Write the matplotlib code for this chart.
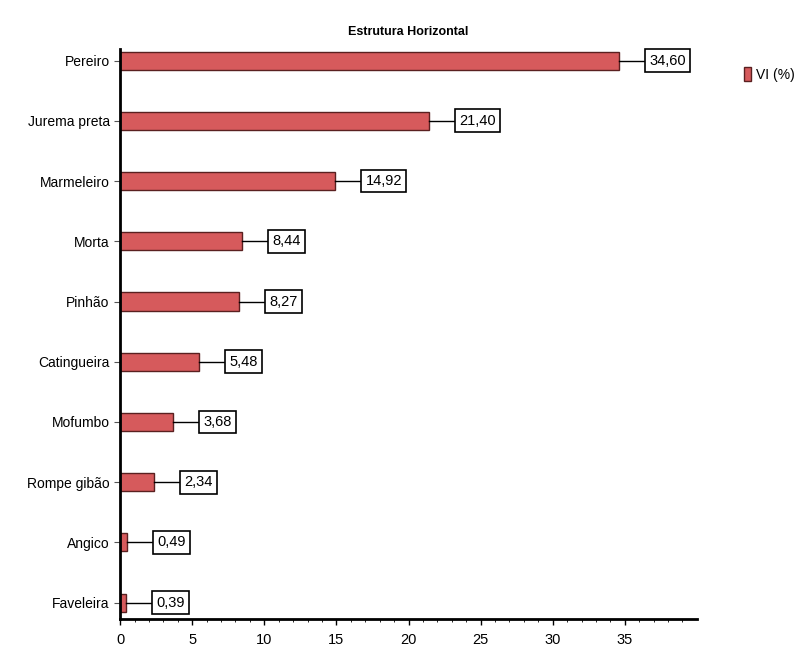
import matplotlib.pyplot as plt
import numpy as np

plt.rcParams['font.family'] = ['Liberation Sans', 'DejaVu Sans']

# especies e valor de importancia
especies = ["Pereiro", "Jurema preta", "Marmeleiro", "Morta", "Pinhão",
            "Catingueira", "Mofumbo", "Rompe gibão", "Angico", "Faveleira"]
vi = [34.60, 21.40, 14.92, 8.44, 8.27, 5.48, 3.68, 2.34, 0.49, 0.39]
rotulos = ["34,60", "21,40", "14,92", "8,44", "8,27",
           "5,48", "3,68", "2,34", "0,49", "0,39"]
xticks = [0, 5, 10, 15, 20, 25, 30, 35]

fig = plt.figure(figsize=(8.01, 6.48), dpi=100)
ax = fig.add_axes([0.15, 0.045, 0.72, 0.88])

y = np.arange(len(especies))[::-1]
ax.barh(y, vi, height=0.3, color='#d65a5c', edgecolor='#5a2020',
        linewidth=1.0, label='VI (%)')

# etiquetas com caixa ligadas por uma linha
for yi, v, r in zip(y, vi, rotulos):
    ax.plot([v, v + 2.1], [yi, yi], color='black', lw=1.0)
    ax.annotate(r, xy=(v + 2.1, yi), xytext=(0, 0), textcoords='offset points',
                ha='left', va='center', fontsize=10.5,
                bbox=dict(boxstyle='square,pad=0.3', fc='white', ec='black', lw=1.2))

ax.set_xlim(0, 40)
ax.set_ylim(-0.27, len(especies) - 0.8)
ax.set_yticks(y)
ax.set_yticklabels(especies, fontsize=10)
ax.set_xticks(xticks)
ax.set_xticklabels([str(t) for t in xticks], fontsize=10.5)
ax.set_xticks(np.arange(0, 40, 1), minor=True)
ax.tick_params(axis='x', which='major', length=4, width=1, pad=6)
ax.tick_params(axis='x', which='minor', length=2, width=0.6)
ax.tick_params(axis='y', length=4, width=0.8, colors='#555555', labelcolor='black')

for s in ['top', 'right']:
    ax.spines[s].set_visible(False)
ax.spines['left'].set_linewidth(2.0)
ax.spines['bottom'].set_linewidth(2.0)

ax.set_title("Estrutura Horizontal", fontsize=9, fontweight='bold', pad=10)

leg = ax.legend(loc='upper left', bbox_to_anchor=(1.06, 0.99), frameon=False,
                fontsize=10, handlelength=0.5, handleheight=1.2, handletextpad=0.4)

plt.savefig("out.png", dpi=100)
